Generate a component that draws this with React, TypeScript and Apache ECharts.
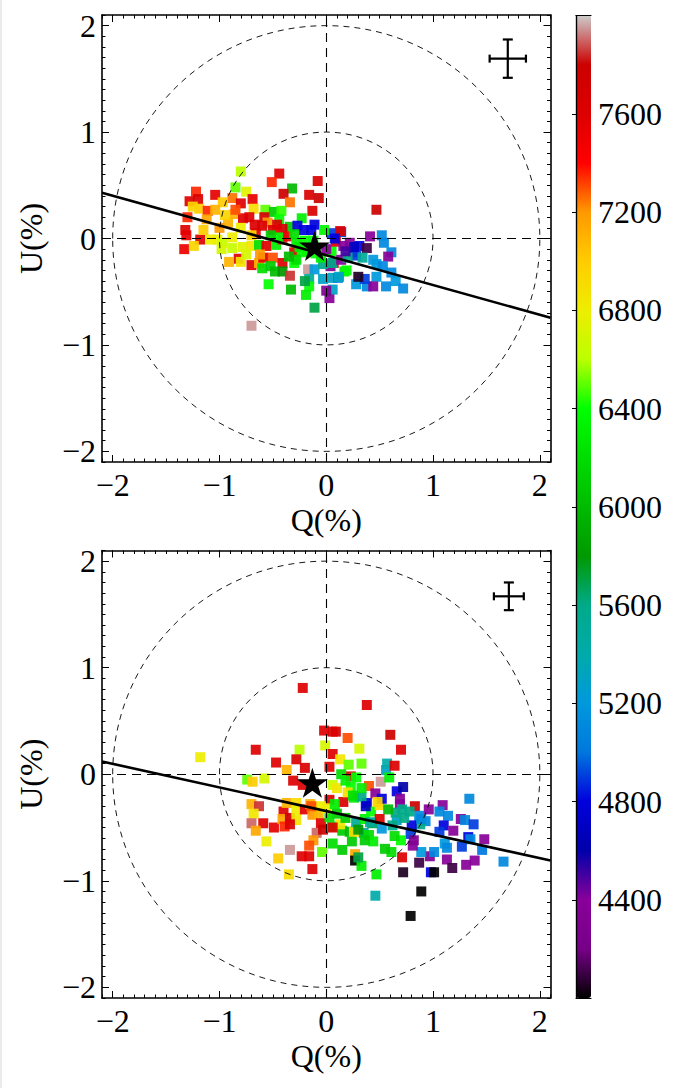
import React, { useEffect, useRef } from "react";
import * as echarts from "echarts";

// [Q(%), U(%), wavelength]
const topPoints: number[][] = [
  [-0.80, 0.63, 6600], [-0.44, 0.61, 7600], [-0.51, 0.53, 7350], [-0.08, 0.54, 7650],
  [-0.32, 0.47, 6000], [-0.40, 0.42, 7800], [-0.85, 0.48, 6500], [-0.75, 0.44, 6750],
  [-1.22, 0.44, 7350], [-1.04, 0.41, 7550], [-1.28, 0.35, 7600], [-1.20, 0.37, 7650],
  [-0.88, 0.38, 7250], [-0.69, 0.37, 7550], [-0.80, 0.33, 7600], [-0.97, 0.34, 7000],
  [-0.16, 0.41, 7650], [-0.07, 0.38, 7800], [-0.34, 0.34, 7250], [-1.19, 0.28, 7000],
  [-1.11, 0.26, 7350], [-1.04, 0.27, 7100], [-0.68, 0.28, 6900], [-0.57, 0.27, 6500],
  [-0.49, 0.25, 6100], [-0.42, 0.26, 6450], [-0.13, 0.26, 7650], [-0.23, 0.19, 6300],
  [-1.30, 0.20, 7350], [-1.12, 0.18, 7150], [-0.86, 0.23, 7100], [-0.92, 0.15, 7100],
  [-0.78, 0.19, 7600], [-0.72, 0.20, 7600], [-0.67, 0.13, 7600], [-0.58, 0.20, 7750],
  [-0.55, 0.15, 7200], [-0.44, 0.18, 6400], [-0.34, 0.11, 6100], [-0.50, 0.08, 7600],
  [-0.41, 0.09, 7750], [-0.27, 0.12, 4800], [-0.11, 0.13, 4800], [-0.21, 0.08, 4800],
  [-1.32, 0.08, 7600], [-1.31, 0.03, 7550], [-1.18, -0.01, 7600], [-1.08, -0.01, 6800],
  [-1.02, -0.01, 6800], [-0.97, -0.04, 6650], [-0.88, 0.01, 6800], [-1.33, -0.10, 7500],
  [-1.24, -0.07, 6950], [-0.98, -0.10, 6700], [-0.88, -0.09, 6650], [-0.78, -0.08, 6750],
  [-0.70, -0.07, 6850], [-0.63, -0.06, 6200], [-0.56, -0.07, 7600], [-0.47, -0.06, 6300],
  [-0.41, -0.01, 7850], [-0.37, 0.02, 7550], [-0.28, -0.04, 6300], [-0.30, -0.13, 7600],
  [-0.23, -0.13, 6400], [-0.82, -0.19, 7600], [-0.91, -0.22, 7100], [-0.80, -0.22, 6850],
  [-0.70, -0.25, 7600], [-0.63, -0.23, 7100], [-0.59, -0.18, 7600], [-0.50, -0.18, 7300],
  [-0.41, -0.23, 7600], [-0.60, -0.28, 6200], [-0.52, -0.26, 6100], [-0.48, -0.31, 6000],
  [-0.41, -0.31, 5800], [-0.30, -0.23, 6400], [-0.34, -0.35, 7850], [-0.54, -0.43, 6400],
  [-0.33, -0.48, 6000], [-0.17, -0.29, 7950], [-0.11, -0.29, 5200], [-0.16, -0.38, 5500],
  [-0.16, -0.45, 6400], [-0.19, -0.53, 6300], [-0.11, -0.65, 5700], [0.03, -0.56, 4400],
  [-0.03, -0.38, 5300], [0.06, -0.37, 5300], [0.11, -0.37, 5100], [0.06, -0.48, 5300],
  [0.00, -0.49, 4300], [-0.70, -0.82, 7950], [0.07, -0.23, 7800], [0.04, -0.26, 4300],
  [0.05, -0.12, 6400], [0.09, -0.03, 7600], [0.05, 0.05, 4900], [0.14, 0.06, 4900],
  [0.16, -0.07, 4400], [0.17, -0.31, 6300], [0.47, 0.27, 7800], [0.13, 0.07, 7600],
  [0.22, -0.04, 4400], [0.31, -0.07, 4800], [0.41, 0.02, 4400], [0.38, -0.09, 4100],
  [0.52, 0.03, 5100], [0.54, -0.04, 5100], [0.61, -0.13, 5100], [0.58, -0.17, 4400],
  [0.25, -0.13, 4800], [0.28, -0.16, 4900], [0.34, -0.18, 5500], [0.44, -0.20, 5200],
  [0.47, -0.24, 5200], [0.53, -0.26, 5100], [0.61, -0.32, 5100], [0.65, -0.40, 5200],
  [0.72, -0.47, 5100], [0.56, -0.45, 5100], [0.47, -0.36, 5200], [0.38, -0.45, 5100],
  [0.44, -0.45, 4400], [0.28, -0.43, 5200], [0.36, -0.38, 4900], [0.30, -0.36, 4050],
  [0.19, -0.30, 6400], [0.12, -0.36, 5300], [-0.03, -0.24, 5600], [0.06, -0.23, 5600],
  [0.14, -0.20, 4400], [0.20, -0.18, 5600], [0.26, -0.08, 4700], [-0.20, -0.02, 6400],
  [-0.25, -0.08, 6300], [-0.18, -0.12, 6350], [-0.10, -0.14, 6400], [-0.05, -0.18, 6300],
  [-0.28, -0.20, 6200], [-0.35, -0.17, 6000], [-0.12, -0.02, 6400], [-0.02, 0.08, 6350],
  [-0.30, 0.04, 6200], [-0.45, 0.01, 6350], [-0.52, 0.03, 6100], [-0.20, -0.40, 5700],
  [-0.14, 0.08, 4800], [0.08, 0.00, 4800], [0.00, -0.10, 4400], [0.18, -0.12, 4500],
  [-0.62, -0.15, 7200], [-0.66, 0.05, 7600], [-0.60, 0.12, 7650], [-0.46, 0.13, 7600],
  [-1.00, 0.10, 7200], [-1.15, 0.08, 7000], [-1.25, 0.30, 6950], [-0.95, 0.22, 6950],
  [-0.80, 0.10, 6800], [-0.70, 0.03, 6950], [-0.75, -0.15, 6700], [-0.85, 0.27, 7300],
];

const bottomPoints: number[][] = [
  [-0.22, 0.81, 7600], [0.38, 0.65, 7600], [-0.02, 0.41, 7600], [0.09, 0.40, 7700],
  [0.06, 0.40, 7650], [0.20, 0.34, 7300], [-0.66, 0.23, 7600], [-0.25, 0.23, 6600],
  [-0.01, 0.27, 6700], [0.31, 0.24, 6700], [0.06, 0.19, 7600], [-1.18, 0.16, 6800],
  [-0.47, 0.11, 7600], [-0.28, 0.14, 7650], [0.13, 0.14, 6850], [0.21, 0.09, 6500],
  [0.33, 0.10, 6500], [-0.37, 0.04, 7100], [-0.20, 0.06, 7650], [0.03, 0.07, 7600],
  [-0.74, -0.05, 6500], [-0.69, -0.07, 7000], [-0.58, -0.04, 6700], [-0.31, -0.06, 7600],
  [-0.22, -0.10, 7600], [0.06, -0.10, 6650], [0.10, -0.13, 6850], [0.23, -0.02, 7650],
  [0.28, -0.03, 6400], [0.23, -0.12, 6400], [0.40, -0.11, 7300], [0.38, -0.27, 4800],
  [0.46, -0.18, 4400], [0.03, -0.24, 7600], [0.16, -0.26, 7650], [0.26, -0.22, 6300],
  [0.33, -0.21, 5600], [-0.70, -0.28, 7100], [-0.63, -0.30, 7850], [-0.68, -0.37, 6850],
  [-0.70, -0.46, 7900], [-0.59, -0.46, 7600], [-0.66, -0.53, 7150], [-0.49, -0.50, 7550],
  [-0.56, -0.63, 6800], [-0.40, -0.35, 7600], [-0.41, -0.42, 7150], [-0.34, -0.41, 7800],
  [-0.28, -0.43, 6850], [-0.39, -0.49, 7350], [-0.34, -0.47, 7650], [-0.37, -0.27, 7100],
  [-0.28, -0.27, 6900], [-0.28, -0.34, 6800], [-0.20, -0.33, 7600], [-0.13, -0.38, 7200],
  [-0.07, -0.37, 7100], [-0.05, -0.46, 7600], [-0.09, -0.55, 7900], [-0.03, -0.52, 7800],
  [-0.12, -0.62, 7200], [-0.16, -0.67, 7300], [-0.34, -0.71, 7950], [-0.23, -0.77, 7600],
  [-0.16, -0.77, 7600], [-0.45, -0.79, 7000], [-0.04, -0.73, 6500], [0.06, -0.65, 6200],
  [0.15, -0.71, 6100], [0.24, -0.63, 6100], [0.27, -0.75, 7150], [0.27, -0.81, 4000],
  [0.33, -0.86, 6300], [0.30, -0.78, 5700], [0.47, -0.94, 6300], [0.46, -1.14, 5400],
  [-0.35, -0.94, 6900], [-0.13, -0.89, 7600], [0.15, -0.53, 6100], [0.22, -0.54, 6000],
  [0.35, -0.55, 5500], [0.40, -0.57, 6200], [0.26, -0.54, 6900], [0.05, -0.49, 6300],
  [0.13, -0.47, 6850], [0.10, -0.37, 6100], [0.03, -0.40, 6200], [0.18, -0.41, 6100],
  [0.28, -0.45, 5500], [0.36, -0.42, 6300], [0.42, -0.35, 6400], [0.50, -0.29, 6900],
  [0.43, -0.46, 5700], [0.50, -0.42, 7600], [0.51, -0.07, 7950], [0.56, 0.04, 5300],
  [0.60, 0.37, 7800], [0.70, 0.23, 7600], [0.57, 0.10, 5400], [0.64, 0.08, 7600],
  [0.59, -0.03, 6300], [0.66, -0.16, 4800], [0.72, -0.12, 4600], [1.34, -0.23, 5100],
  [0.69, -0.28, 4400], [0.83, -0.30, 7800], [0.96, -0.33, 4400], [1.09, -0.29, 4400],
  [1.06, -0.35, 5100], [1.14, -0.39, 5100], [0.87, -0.39, 5100], [0.93, -0.44, 5100],
  [0.78, -0.35, 5600], [0.79, -0.56, 4900], [1.10, -0.48, 4800], [1.06, -0.54, 4900],
  [1.19, -0.53, 4400], [1.26, -0.42, 4400], [1.30, -0.43, 5100], [1.38, -0.47, 4900],
  [1.33, -0.59, 4800], [1.35, -0.61, 5100], [1.48, -0.61, 4400], [1.46, -0.71, 5000],
  [1.27, -0.68, 4900], [1.11, -0.65, 5200], [1.13, -0.69, 5100], [1.66, -0.82, 5100],
  [1.39, -0.81, 4400], [1.31, -0.85, 4400], [1.13, -0.80, 4400], [1.18, -0.88, 4100],
  [0.97, -0.77, 4300], [0.87, -0.83, 4100], [0.89, -0.73, 5200], [1.01, -0.73, 5100],
  [0.98, -0.92, 4800], [1.01, -0.92, 4000], [0.72, -0.92, 4050], [0.89, -1.10, 4000],
  [0.79, -1.33, 4000], [0.71, -0.78, 7600], [0.61, -0.73, 6200], [0.55, -0.70, 6100],
  [0.70, -0.62, 6400], [0.64, -0.58, 6200], [0.81, -0.67, 4400], [0.82, -0.62, 4300],
  [0.88, -0.47, 5600], [0.80, -0.48, 4800], [0.89, -0.42, 5100], [0.66, -0.43, 5300],
  [0.62, -0.48, 5600], [0.65, -0.36, 5600], [0.71, -0.33, 5600], [0.52, -0.23, 4800],
  [0.48, -0.26, 6950], [0.58, -0.33, 6000], [0.69, -0.23, 4400], [0.73, -0.41, 5600],
  [0.06, -0.50, 7600], [0.41, -0.45, 5500], [0.37, -0.30, 4700], [0.14, 0.00, 6200],
  [0.18, -0.06, 6300], [0.33, -0.13, 6300], [0.20, -0.17, 6900], [0.25, -0.20, 6200],
  [-0.05, -0.30, 6800], [-0.15, -0.28, 7100], [0.00, -0.32, 6800], [0.08, -0.28, 6300],
  [-0.14, -0.30, 7300], [0.44, -0.63, 6300], [0.36, -0.62, 6100], [0.52, -0.51, 5200],
  [0.30, -0.52, 5800],
];

const topStar = [[-0.11, -0.07]];
const bottomStar = [[-0.13, -0.08]];
const fitQ = [-2.1, 2.1];
const topFitU = [0.43, -0.745];
const bottomFitU = [0.12, -0.81];
// [Q, U, dQ, dU]
const topError = [[1.70, 1.69, 0.17, 0.18]];
const bottomError = [[1.71, 1.67, 0.14, 0.13]];
const circleRadii = [1, 2];
const majorTicks = [-2, -1, 0, 1, 2];
const axisMin = -2.1;
const axisMax = 2.1;
const waveMin = 4000;
const waveMax = 8000;
const waveStep = 400;

const nipySpectral = [
  "#000000", "#770088", "#880099", "#0000aa", "#0000dd", "#0077dd", "#0099dd",
  "#00aaaa", "#00aa88", "#009900", "#00bb00", "#00dd00", "#00ff00", "#bbff00",
  "#eeee00", "#ffcc00", "#ff9900", "#ff0000", "#dd0000", "#cc0000", "#cccccc",
];

const FONT = "'Liberation Serif', 'DejaVu Serif', 'Times New Roman', serif";
const FS = 32;
const fmt = (v: number) => (v < 0 ? "\u2212" + Math.abs(v) : String(v));
const STAR =
  "path://M0,-50L11.23,-15.45L47.55,-15.45L18.16,5.9L29.39,40.45L0,19.1L-29.39,40.45L-18.16,5.9L-47.55,-15.45L-11.23,-15.45Z";

function axesFor(grid: number, kind: "x" | "y", name: string) {
  const sideA = kind === "x" ? "bottom" : "left";
  const sideB = kind === "x" ? "top" : "right";
  const base = { gridIndex: grid, type: "value", min: axisMin, max: axisMax, splitLine: { show: false }, z: 5 };
  const tickStyle = { color: "#000", width: 1 };
  return [
    {
      ...base,
      position: sideA,
      axisLine: { show: true, onZero: false, lineStyle: { color: "#000", width: 1.6 } },
      axisTick: { show: true, inside: true, length: 7, customValues: majorTicks, lineStyle: tickStyle },
      axisLabel: {
        show: true,
        customValues: majorTicks,
        formatter: fmt,
        fontFamily: FONT,
        fontSize: FS,
        color: "#000",
        margin: kind === "x" ? 7 : 6,
      },
      name,
      nameLocation: "middle",
      nameGap: kind === "x" ? 42 : 55,
      nameTextStyle: { fontFamily: FONT, fontSize: FS, color: "#000" },
    },
    {
      ...base,
      position: sideA,
      axisLine: { show: false, onZero: false },
      axisTick: { show: true, inside: true, length: 3.5, lineStyle: tickStyle },
      axisLabel: { show: false },
      interval: 0.1,
    },
    {
      ...base,
      position: sideB,
      axisLine: { show: true, onZero: false, lineStyle: { color: "#000", width: 1.6 } },
      axisTick: { show: true, inside: true, length: 7, customValues: majorTicks, lineStyle: tickStyle },
      axisLabel: { show: false },
    },
    {
      ...base,
      position: sideB,
      axisLine: { show: false, onZero: false },
      axisTick: { show: true, inside: true, length: 3.5, lineStyle: tickStyle },
      axisLabel: { show: false },
      interval: 0.1,
    },
  ];
}

function panelSeries(axisIdx: number, star: number[][], fitU: number[], err: number[][]) {
  const ax = { xAxisIndex: axisIdx, yAxisIndex: axisIdx };
  return [
    {
      type: "custom",
      ...ax,
      z: 3,
      silent: true,
      clip: false,
      data: circleRadii.map((r) => [0, 0, r]),
      encode: { x: 0, y: 1 },
      renderItem: (_p: any, api: any) => {
        const c = api.coord([api.value(0), api.value(1)]);
        const s = api.size([api.value(2), api.value(2)]);
        return {
          type: "ellipse",
          shape: { cx: c[0], cy: c[1], rx: s[0], ry: s[1] },
          style: { fill: "none", stroke: "#000", lineWidth: 0.9, lineDash: [6, 5] },
        };
      },
    },
    {
      type: "line",
      ...ax,
      z: 4,
      silent: true,
      symbol: "none",
      data: fitQ.map((q, i) => [q, fitU[i]]),
      lineStyle: { color: "#000", width: 2.6 },
      markLine: {
        silent: true,
        symbol: ["none", "none"],
        label: { show: false },
        lineStyle: { color: "#000", type: [9, 6], width: 1.1 },
        data: [{ xAxis: 0 }, { yAxis: 0 }],
      },
    },
    {
      type: "scatter",
      ...ax,
      z: 5,
      silent: true,
      symbol: STAR,
      symbolSize: [31, 30],
      itemStyle: { color: "#000", opacity: 1 },
      data: star,
    },
    {
      type: "custom",
      ...ax,
      z: 5,
      silent: true,
      data: err,
      encode: { x: 0, y: 1 },
      renderItem: (_p: any, api: any) => {
        const c = api.coord([api.value(0), api.value(1)]);
        const s = api.size([api.value(2), api.value(3)]);
        const st = { stroke: "#000", lineWidth: 2.2 };
        return {
          type: "group",
          children: [
            { type: "line", shape: { x1: c[0] - s[0], y1: c[1], x2: c[0] + s[0], y2: c[1] }, style: st },
            { type: "line", shape: { x1: c[0], y1: c[1] - s[1], x2: c[0], y2: c[1] + s[1] }, style: st },
            { type: "line", shape: { x1: c[0] - s[0], y1: c[1] - 4, x2: c[0] - s[0], y2: c[1] + 4 }, style: st },
            { type: "line", shape: { x1: c[0] + s[0], y1: c[1] - 4, x2: c[0] + s[0], y2: c[1] + 4 }, style: st },
            { type: "line", shape: { x1: c[0] - 5, y1: c[1] - s[1], x2: c[0] + 5, y2: c[1] - s[1] }, style: st },
            { type: "line", shape: { x1: c[0] - 5, y1: c[1] + s[1], x2: c[0] + 5, y2: c[1] + s[1] }, style: st },
          ],
        };
      },
    },
  ];
}

export default function App() {
  const ref = useRef<HTMLDivElement>(null);
  useEffect(() => {
    if (!ref.current) return;
    const chart = echarts.init(ref.current, undefined, { renderer: "svg" });
    const cbAxisBase = { gridIndex: 2, z: 10, splitLine: { show: false } };
    const cbLine = { show: true, lineStyle: { color: "#000", width: 1.2 } };
    const option: any = {
      animation: false,
      backgroundColor: "#ffffff",
      textStyle: { fontFamily: FONT },
      grid: [
        { left: 102, top: 15, width: 448.5, height: 447 },
        { left: 102, top: 550.5, width: 448.5, height: 447.5 },
        { left: 576, top: 15.5, width: 15, height: 982.5 },
      ],
      xAxis: [
        ...axesFor(0, "x", "Q(%)"),
        ...axesFor(1, "x", "Q(%)"),
        { ...cbAxisBase, type: "value", min: 0, max: 1, position: "bottom", axisLine: cbLine, axisTick: { show: false }, axisLabel: { show: false } },
        { ...cbAxisBase, type: "value", min: 0, max: 1, position: "top", axisLine: cbLine, axisTick: { show: false }, axisLabel: { show: false } },
      ],
      yAxis: [
        ...axesFor(0, "y", "U(%)"),
        ...axesFor(1, "y", "U(%)"),
        {
          ...cbAxisBase,
          type: "value",
          min: waveMin,
          max: waveMax,
          interval: waveStep,
          position: "right",
          axisLine: cbLine,
          axisTick: { show: true, inside: true, length: 4, lineStyle: { color: "#000", width: 1 } },
          axisLabel: {
            show: true,
            showMinLabel: false,
            showMaxLabel: false,
            formatter: (v: number) => String(v),
            fontFamily: FONT,
            fontSize: FS,
            color: "#000",
            margin: 7,
          },
        },
        {
          ...cbAxisBase,
          type: "value",
          min: waveMin,
          max: waveMax,
          position: "left",
          axisLine: cbLine,
          axisTick: { show: false },
          axisLabel: { show: false },
        },
      ],
      visualMap: {
        type: "continuous",
        min: waveMin,
        max: waveMax,
        dimension: 2,
        seriesIndex: [0, 1],
        inRange: { color: nipySpectral },
        show: true,
        orient: "vertical",
        left: 576,
        top: 15.5,
        padding: 0,
        itemWidth: 15,
        itemHeight: 982.5,
        calculable: false,
        hoverLink: false,
        realtime: false,
      },
      graphic: [
        { type: "rect", left: 0, top: 0, shape: { width: 2, height: 1088 }, style: { fill: "#ebebeb" }, silent: true },
      ],
      series: [
        {
          type: "scatter",
          xAxisIndex: 0,
          yAxisIndex: 0,
          z: 2,
          silent: true,
          symbol: "rect",
          symbolSize: 10,
          itemStyle: { opacity: 0.92 },
          data: topPoints,
        },
        {
          type: "scatter",
          xAxisIndex: 4,
          yAxisIndex: 4,
          z: 2,
          silent: true,
          symbol: "rect",
          symbolSize: 10,
          itemStyle: { opacity: 0.92 },
          data: bottomPoints,
        },
        ...panelSeries(0, topStar, topFitU, topError),
        ...panelSeries(4, bottomStar, bottomFitU, bottomError),
      ],
    };
    chart.setOption(option);
    return () => chart.dispose();
  }, []);
  return (
    <div
      ref={ref}
      style={{ position: "fixed", left: 0, top: 0, width: 677, height: 1088, background: "#fff" }}
    />
  );
}
